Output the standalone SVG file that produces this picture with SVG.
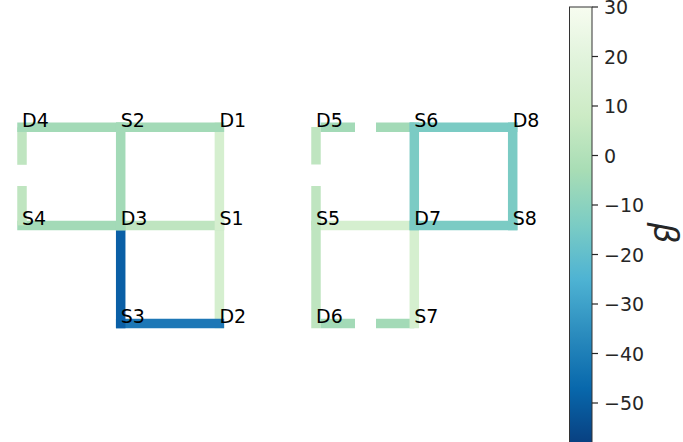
<svg xmlns="http://www.w3.org/2000/svg" width="683" height="442" viewBox="0 0 683 442">
<style>
.e{fill:none;stroke-width:9.5;stroke-linecap:square}
.b{fill:none;stroke-width:9.5;stroke-linecap:butt}
.g{stroke:#a3dab7}
.l{stroke:#bfe5c0}
.v{stroke:#d5efcf}
.t{stroke:#7bcbc4}
.d{stroke:#0a5fa6}
.m{stroke:#1d77b6}
.lab{font-family:"DejaVu Sans",sans-serif;font-size:19px;fill:#000}
.tk{font-family:"DejaVu Sans",sans-serif;font-size:19px;fill:#262626}
.tm{stroke:#262626;stroke-width:1.2}
</style>
<defs>
<linearGradient id="cmap" gradientUnits="userSpaceOnUse" x1="0" y1="7" x2="0" y2="442.6">
<stop offset="0" stop-color="#f7fcf0"/>
<stop offset="0.125" stop-color="#e0f3db"/>
<stop offset="0.25" stop-color="#ccebc5"/>
<stop offset="0.375" stop-color="#a8ddb5"/>
<stop offset="0.5" stop-color="#7bccc4"/>
<stop offset="0.625" stop-color="#4eb3d3"/>
<stop offset="0.75" stop-color="#2b8cbe"/>
<stop offset="0.875" stop-color="#0868ac"/>
<stop offset="1" stop-color="#084081"/>
</linearGradient>
</defs>
<rect width="683" height="442" fill="#fff"/>
<g id="connectors">
<!-- left lattice -->
<line class="e v" x1="219.4" y1="225.4" x2="219.4" y2="323.4"/>
<line class="e m" x1="120.7" y1="323.4" x2="219.4" y2="323.4"/>
<line class="e d" x1="120.7" y1="225.4" x2="120.7" y2="323.4"/>
<line class="e l" x1="120.7" y1="225.4" x2="219.4" y2="225.4"/>
<line class="e g" x1="22" y1="225.4" x2="120.7" y2="225.4"/>
<line class="e v" x1="219.4" y1="127.3" x2="219.4" y2="225.4"/>
<line class="e g" x1="120.7" y1="127.3" x2="120.7" y2="225.4"/>
<line class="b l" x1="22" y1="127.3" x2="22" y2="164.8"/>
<line class="b l" x1="22" y1="186" x2="22" y2="225.4"/>
<line class="e g" x1="22" y1="127.3" x2="120.7" y2="127.3"/>
<line class="e g" x1="120.7" y1="127.3" x2="219.4" y2="127.3"/>
<!-- right lattice -->
<line class="e v" x1="316" y1="225.4" x2="414.3" y2="225.4"/>
<line class="b l" x1="316" y1="127" x2="316" y2="164.5"/>
<line class="b l" x1="316" y1="186" x2="316" y2="225.4"/>
<line class="e l" x1="316" y1="225.4" x2="316" y2="323.4"/>
<line class="b g" x1="320.7" y1="127.3" x2="355" y2="127.3"/>
<line class="b g" x1="376" y1="127.3" x2="414.3" y2="127.3"/>
<line class="b g" x1="320.7" y1="323.4" x2="355" y2="323.4"/>
<line class="b g" x1="376" y1="323.4" x2="414.3" y2="323.4"/>
<line class="e v" x1="414.3" y1="225.4" x2="414.3" y2="323.4"/>
<line class="e t" x1="414.3" y1="127.3" x2="414.3" y2="225.4"/>
<line class="e t" x1="414.3" y1="225.4" x2="512.7" y2="225.4"/>
<line class="e t" x1="414.3" y1="127.3" x2="512.7" y2="127.3"/>
<line class="e t" x1="512.7" y1="127.3" x2="512.7" y2="225.4"/>
</g>
<g id="D4"><text class="lab" x="22" y="127.3">D4</text></g>
<g id="S2"><text class="lab" x="120.7" y="127.3">S2</text></g>
<g id="D1"><text class="lab" x="219.4" y="127.3">D1</text></g>
<g id="S4"><text class="lab" x="22" y="225.4">S4</text></g>
<g id="D3"><text class="lab" x="120.7" y="225.4">D3</text></g>
<g id="S1"><text class="lab" x="219.4" y="225.4">S1</text></g>
<g id="S3"><text class="lab" x="120.7" y="323.4">S3</text></g>
<g id="D2"><text class="lab" x="219.4" y="323.4">D2</text></g>
<g id="D5"><text class="lab" x="316" y="127.3">D5</text></g>
<g id="S6"><text class="lab" x="414.3" y="127.3">S6</text></g>
<g id="D8"><text class="lab" x="512.7" y="127.3">D8</text></g>
<g id="S5"><text class="lab" x="316" y="225.4">S5</text></g>
<g id="D7"><text class="lab" x="414.3" y="225.4">D7</text></g>
<g id="S8"><text class="lab" x="512.7" y="225.4">S8</text></g>
<g id="D6"><text class="lab" x="316" y="323.4">D6</text></g>
<g id="S7"><text class="lab" x="414.3" y="323.4">S7</text></g>
<g id="colorbar">
<rect x="569.5" y="7" width="22.5" height="435.6" fill="url(#cmap)" stroke="#333" stroke-width="1"/>
<g class="tm">
<line x1="592" y1="7" x2="598" y2="7"/>
<line x1="592" y1="56.5" x2="598" y2="56.5"/>
<line x1="592" y1="106" x2="598" y2="106"/>
<line x1="592" y1="155.5" x2="598" y2="155.5"/>
<line x1="592" y1="205" x2="598" y2="205"/>
<line x1="592" y1="254.5" x2="598" y2="254.5"/>
<line x1="592" y1="304" x2="598" y2="304"/>
<line x1="592" y1="353.5" x2="598" y2="353.5"/>
<line x1="592" y1="403" x2="598" y2="403"/>
</g>
<text class="tk" x="604" y="14">30</text>
<text class="tk" x="604" y="63.5">20</text>
<text class="tk" x="604" y="113">10</text>
<text class="tk" x="604" y="162.5">0</text>
<text class="tk" x="604" y="212">−10</text>
<text class="tk" x="604" y="261.5">−20</text>
<text class="tk" x="604" y="311">−30</text>
<text class="tk" x="604" y="360.5">−40</text>
<text class="tk" x="604" y="410">−50</text>
<text x="654" y="233" transform="rotate(90 654 233)" text-anchor="middle" style="font-family:'DejaVu Sans',sans-serif;font-style:italic;font-size:33px;fill:#262626">β</text>
</g>
</svg>
